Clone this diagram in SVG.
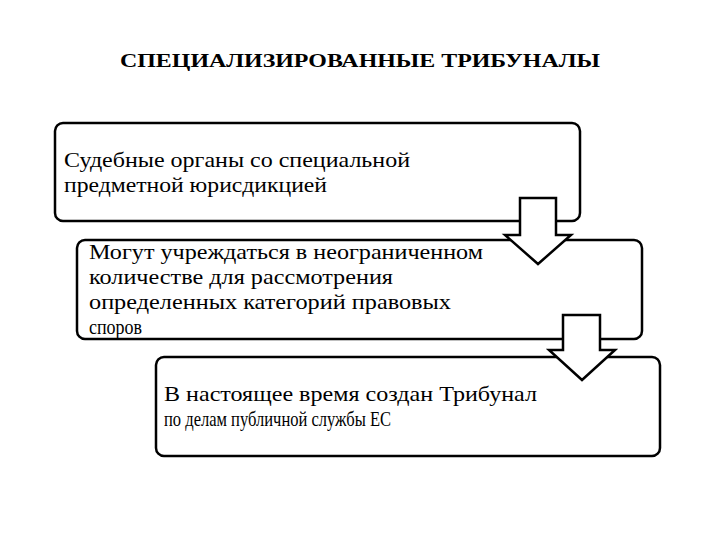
<svg xmlns="http://www.w3.org/2000/svg" width="720" height="540" viewBox="0 0 720 540">
<style>
.b{fill:#fff;stroke:#000;stroke-width:2.5}
.a{fill:#fff;stroke:#000;stroke-width:2.5;stroke-linejoin:miter}
.t{font-family:'Liberation Serif','Times New Roman','DejaVu Serif',serif;font-size:21px;fill:#000}
.h{font-family:'Liberation Serif','Times New Roman','DejaVu Serif',serif;font-size:18px;font-weight:bold;fill:#000}
</style>
<rect width="720" height="540" fill="#fff"/>
<text class="h" x="120" y="67" textLength="480" lengthAdjust="spacingAndGlyphs">СПЕЦИАЛИЗИРОВАННЫЕ ТРИБУНАЛЫ</text>
<g id="n1"><rect class="b" x="55" y="123" width="525" height="98" rx="8"/>
<text class="t" x="64" y="167" textLength="346" lengthAdjust="spacingAndGlyphs">Судебные органы со специальной</text><text class="t" x="64" y="192" textLength="263" lengthAdjust="spacingAndGlyphs">предметной юрисдикцией</text></g>
<g id="n2"><rect class="b" x="77" y="240" width="565" height="99" rx="8"/>
<text class="t" x="89" y="259" textLength="394" lengthAdjust="spacingAndGlyphs">Могут учреждаться в неограниченном</text><text class="t" x="89" y="284" textLength="304" lengthAdjust="spacingAndGlyphs">количестве для рассмотрения</text><text class="t" x="89" y="309" textLength="362" lengthAdjust="spacingAndGlyphs">определенных категорий правовых</text><text class="t" x="89" y="334" textLength="53" lengthAdjust="spacingAndGlyphs">споров</text></g>
<g id="n3"><rect class="b" x="156" y="357" width="504" height="99" rx="8"/>
<text class="t" x="164" y="401" textLength="373" lengthAdjust="spacingAndGlyphs">В настоящее время создан Трибунал</text><text class="t" x="164" y="426" textLength="227" lengthAdjust="spacingAndGlyphs">по делам публичной службы ЕС</text></g>
<g id="connectors">
<polygon class="a" points="520,198 556,198 556,235 571,235 538,264 505,235 520,235"/>
<polygon class="a" points="563,315 600,315 600,350 615,350 582,380 549,350 563,350"/>
</g>
</svg>
